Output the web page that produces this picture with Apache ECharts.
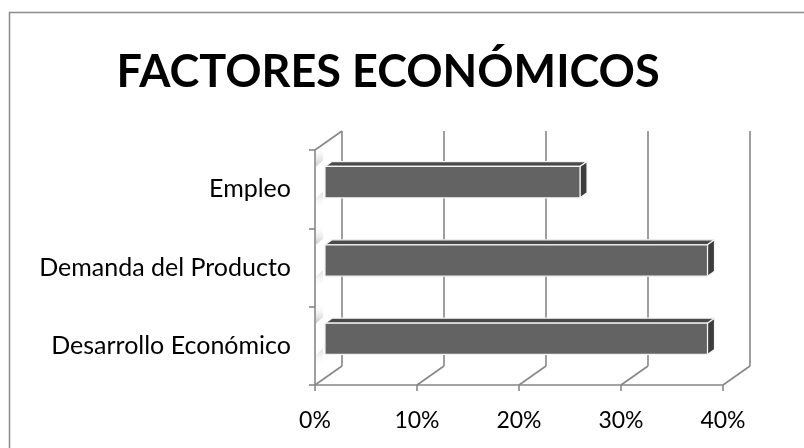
<!DOCTYPE html>
<html>
<head>
<meta charset="utf-8">
<script src="https://cdn.jsdelivr.net/npm/echarts@6/dist/echarts.min.js"></script>
<style>html,body{margin:0;padding:0;background:#fff}#c{width:804px;height:448px}</style>
</head>
<body>
<div id="c"></div>
<script>
const categories = ['Desarrollo Económico', 'Demanda del Producto', 'Empleo'];
const values = [0.375, 0.375, 0.25];
const xTicks = [0, 0.1, 0.2, 0.3, 0.4];
const titleText = 'FACTORES ECONÓMICOS';

const DX = 27, DY = -19;      // depth offset of the back wall
const F0 = 0.37, F1 = 0.63;   // bar depth range (fraction)
const BAR = 0.4;              // bar thickness relative to band
const LINE = '#878787';
const FONT = 'Lato';

const chart = echarts.init(document.getElementById('c'));

function wallItem(params, api) {
  const v = api.value(0);
  const bot = api.coord([v, -0.5]);
  const cs = params.coordSys;
  const children = [];
  children.push({type: 'line', shape: {x1: bot[0] + DX, y1: cs.y + DY, x2: bot[0] + DX, y2: cs.y + cs.height + DY},
    style: {stroke: LINE, lineWidth: 1.6}});
  children.push({type: 'line', shape: {x1: bot[0], y1: cs.y + cs.height, x2: bot[0] + DX, y2: cs.y + cs.height + DY},
    style: {stroke: LINE, lineWidth: 1.6}});
  if (params.dataIndex === 0) {
    children.push({type: 'line', shape: {x1: bot[0], y1: cs.y, x2: bot[0] + DX, y2: cs.y + DY},
      style: {stroke: LINE, lineWidth: 1.6}});
  }
  return {type: 'group', children: children, silent: true};
}

function barItem(params, api) {
  const cat = api.value(0);
  const val = api.value(1);
  const p0 = api.coord([0, cat]);
  const p1 = api.coord([val, cat]);
  const band = api.size([0, 1])[1];
  const h = band * BAR;
  const fx = F0 * DX, fy = F0 * DY, bx = F1 * DX, by = F1 * DY;
  const xf0 = p0[0] + fx, xf1 = p1[0] + fx;
  const ytf = p0[1] + fy - h / 2, ybf = p0[1] + fy + h / 2;
  const xb0 = p0[0] + bx, xb1 = p1[0] + bx;
  const ytb = p0[1] + by - h / 2, ybb = p0[1] + by + h / 2;
  const edge = {stroke: '#f4f4f4', lineWidth: 1.2, lineJoin: 'round'};
  const shTop = {type: 'polygon', shape: {points: [[p0[0] + fx - 9, ytf - 14], [p0[0] + fx - 2, ytf - 20], [p0[0] + fx - 2, ytf - 6], [p0[0] + fx - 9, ytf]]},
    style: {fill: new echarts.graphic.LinearGradient(0, 1, 0, 0, [{offset: 0, color: 'rgba(150,150,150,0.55)'}, {offset: 1, color: 'rgba(255,255,255,0)'}])}};
  const shBot = {type: 'polygon', shape: {points: [[p0[0] + fx - 9, ybf], [p0[0] + fx - 2, ybf - 6], [p0[0] + fx - 2, ybf + 6], [p0[0] + fx - 9, ybf + 12]]},
    style: {fill: new echarts.graphic.LinearGradient(0, 0, 0, 1, [{offset: 0, color: 'rgba(190,190,190,0.5)'}, {offset: 1, color: 'rgba(255,255,255,0)'}])}};
  return {
    type: 'group', silent: true,
    children: [
      shTop, shBot,
      {type: 'polygon', shape: {points: [[xf0, ytf], [xf1, ytf], [xb1, ytb], [xb0, ytb]]}, style: Object.assign({fill: '#4a4a4a'}, edge)},
      {type: 'polygon', shape: {points: [[xf1, ytf], [xb1, ytb], [xb1, ybb], [xf1, ybf]]}, style: Object.assign({fill: '#3d3d3d'}, edge)},
      {type: 'rect', shape: {x: xf0, y: ytf, width: xf1 - xf0, height: ybf - ytf}, style: Object.assign({fill: '#636363'}, edge)}
    ]
  };
}

const option = {
  backgroundColor: '#ffffff',
  animation: false,
  graphic: [
    {type: 'rect', shape: {x: 9.5, y: 12.5, width: 820, height: 460}, style: {fill: 'none', stroke: '#8c8c8c', lineWidth: 1.5}, silent: true, z: 0},
    {type: 'text', x: 388, y: 72, style: {text: titleText, fontFamily: FONT, fontWeight: 'bold', fontSize: 45, fill: '#000', align: 'center', verticalAlign: 'middle'}}
  ],
  grid: {left: 315, right: 81, top: 150, bottom: 63},
  xAxis: {
    type: 'value', min: 0, max: 0.4, interval: 0.1,
    axisLine: {show: true, lineStyle: {color: LINE, width: 1.6}},
    axisTick: {show: true, length: 6, lineStyle: {color: LINE, width: 1.6}},
    splitLine: {show: false},
    axisLabel: {formatter: v => Math.round(v * 100) + '%', fontFamily: FONT, fontSize: 23, color: '#000', margin: 24}
  },
  yAxis: {
    type: 'category', data: categories,
    axisLine: {show: true, lineStyle: {color: LINE, width: 1.6}},
    axisTick: {show: true, length: 6, lineStyle: {color: LINE, width: 1.6}},
    axisLabel: {fontFamily: FONT, fontSize: 25, color: '#000', margin: 24}
  },
  series: [
    {type: 'custom', renderItem: wallItem, data: xTicks.map(v => [v]), z: 1, silent: true},
    {type: 'custom', renderItem: barItem, data: values.map((v, i) => [i, v]), z: 3, silent: true}
  ]
};
chart.setOption(option);
</script>
</body>
</html>
